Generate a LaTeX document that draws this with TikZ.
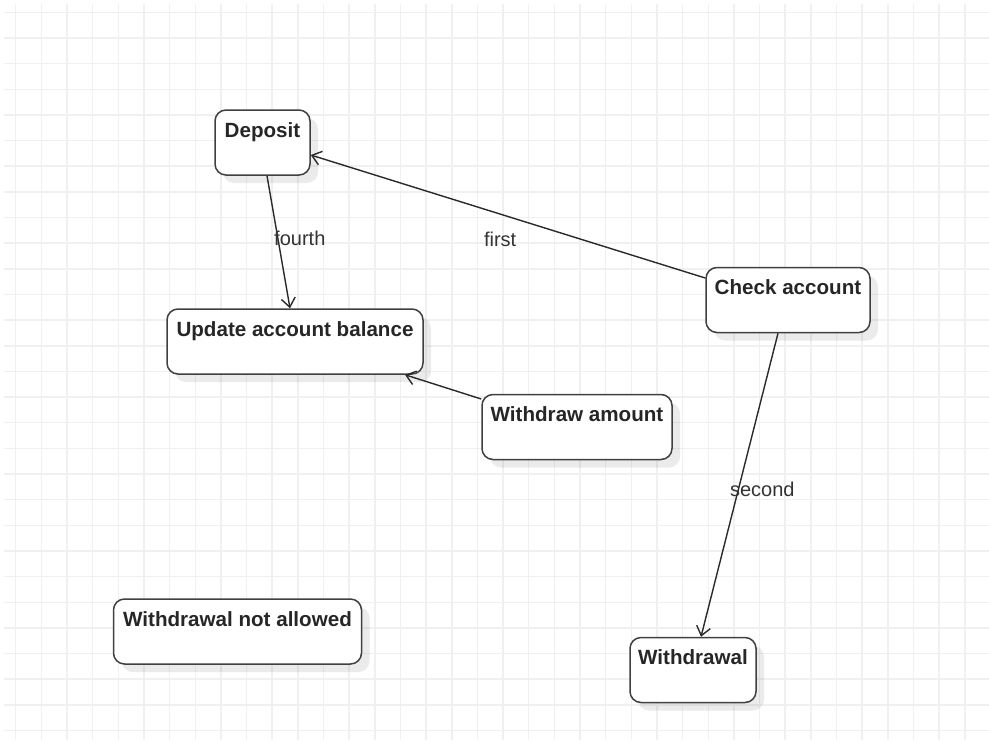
\documentclass[tikz,border=0pt]{standalone}
\usepackage{fontspec}
\setmainfont{Liberation Sans}
\usepackage{tikz}
\usetikzlibrary{arrows.meta,positioning,shadows}
\definecolor{gridC}{HTML}{F0F0F0}
\definecolor{lineC}{HTML}{2A2A2A}
\definecolor{boxC}{HTML}{404040}

\begin{document}
\begin{tikzpicture}[x=1pt,y=-1pt,
  state/.style={draw=boxC,line width=1.5pt,fill=white,rounded corners=11pt,
    inner xsep=0pt,inner ysep=13.4pt,text height=14pt,text depth=24.2pt,
    font=\fontsize{20.6}{24}\selectfont\bfseries,text=black!85,
    drop shadow={shadow xshift=8pt,shadow yshift=-8pt,fill=black,opacity=0.08}},
  trans/.style={draw=lineC,line width=1.4pt,-{Straight Barb[length=9pt,width=14pt]}},
  lbl/.style={font=\fontsize{20}{24}\selectfont,text=black!80,inner sep=0pt}]
  \useasboundingbox (0,0) rectangle (989,740);
  \fill[white] (0,0) rectangle (989,740);
  \foreach \i in {0,...,37}{\draw[gridC,line width=1.5pt] (15.7+25.65*\i,4) -- (15.7+25.65*\i,740);}
  \foreach \j in {0,...,28}{\draw[gridC,line width=1.5pt] (4,12.3+25.65*\j) -- (989,12.3+25.65*\j);}

  \node[state,minimum width=95pt] (dep) at (262.5,142.5) {Deposit};
  \node[state,minimum width=256pt] (upd) at (295,341.5) {Update account balance};
  \node[state,minimum width=164pt] (chk) at (788,300) {Check account};
  \node[state,minimum width=190pt] (wam) at (577,427) {Withdraw amount};
  \node[state,minimum width=248pt] (wna) at (237.5,631.5) {Withdrawal not allowed};
  \node[state,minimum width=126pt] (wdl) at (693,670) {Withdrawal};

  \draw[trans] ([xshift=4.5pt]dep.south) -- node[lbl,pos=0.47,xshift=22pt] (l4) {fourth} ([xshift=-5pt]upd.north);
  \draw[trans] ([yshift=22pt]chk.west) -- node[lbl,pos=0.52,yshift=-25pt] (l1) {first} ([yshift=-12.5pt]dep.east);
  \draw[trans] ([xshift=-10pt]chk.south) -- node[lbl,pos=0.515,xshift=24pt] (l2) {second} ([xshift=8pt]wdl.north);
  \draw[trans] ([yshift=28pt]wam.west) -- ([xshift=110pt]upd.south);
\end{tikzpicture}
\end{document}
